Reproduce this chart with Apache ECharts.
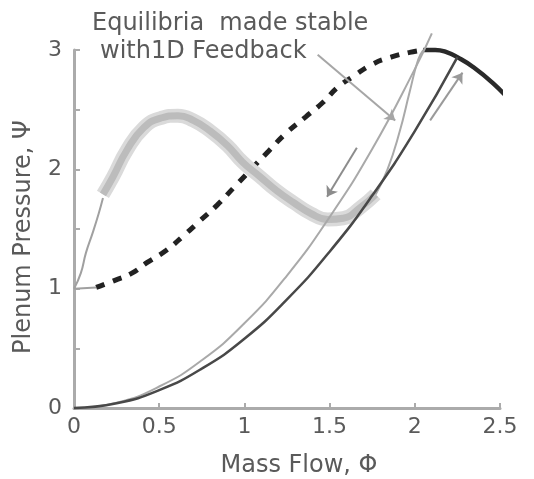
<!DOCTYPE html>
<html>
<head>
<meta charset="utf-8">
<script src="https://cdn.jsdelivr.net/npm/echarts@6/dist/echarts.min.js"></script>
<style>
  html, body { margin: 0; padding: 0; background: #ffffff; }
  #chart { width: 534px; height: 479px; }
</style>
</head>
<body>
<div id="chart"></div>
<script>
// Compressor characteristic: unstable branch (dashed)
const phiUnstable = [0.13, 0.24, 0.34, 0.43, 0.54, 0.64, 0.74, 0.84, 0.94, 1.14, 1.25, 1.36, 1.46, 1.55, 1.64, 1.75, 1.86, 1.97, 2.05];
const psiUnstable = [1.01, 1.07, 1.13, 1.22, 1.32, 1.44, 1.57, 1.70, 1.85, 2.15, 2.31, 2.44, 2.56, 2.69, 2.78, 2.88, 2.94, 2.98, 3.00];

// Compressor characteristic: stable branch (solid)
const phiStable = [2.05, 2.12, 2.19, 2.25, 2.34, 2.46, 2.57];
const psiStable = [3.00, 3.00, 2.98, 2.94, 2.86, 2.72, 2.56];

// Equilibria made stable with 1D feedback (grey band)
const phiBand = [0.17, 0.23, 0.31, 0.41, 0.51, 0.61, 0.70, 0.80, 0.90, 0.99, 1.09, 1.19, 1.29, 1.39, 1.49, 1.58, 1.68, 1.77];
const psiBand = [1.79, 1.94, 2.16, 2.35, 2.43, 2.45, 2.41, 2.32, 2.20, 2.06, 1.94, 1.82, 1.72, 1.63, 1.58, 1.59, 1.68, 1.79];

// Throttle lines
const phiThrottleA = [0, 0.25, 0.50, 0.75, 1.00, 1.25, 1.50, 1.75, 2.00, 2.10];
const psiThrottleA = [0, 0.045, 0.18, 0.40, 0.71, 1.11, 1.60, 2.17, 2.84, 3.14];
const phiThrottleB = [0, 0.25, 0.50, 0.75, 1.00, 1.25, 1.50, 1.75, 2.00, 2.25];
const psiThrottleB = [0, 0.04, 0.15, 0.33, 0.58, 0.91, 1.31, 1.78, 2.32, 2.94];

// Transition paths joining the band to the characteristic
const phiJumpLow = [0, 0.04, 0.07, 0.11, 0.145, 0.17];
const psiJumpLow = [1.00, 1.13, 1.30, 1.47, 1.63, 1.76];
const phiStart = [0, 0.13];
const psiStart = [1.00, 1.01];
const phiJumpHigh = [1.77, 1.84, 1.91, 1.97, 2.02, 2.05];
const psiJumpHigh = [1.79, 2.00, 2.31, 2.65, 2.92, 3.00];

// Direction arrows [from, to]
const arrowDown = [[1.66, 2.18], [1.485, 1.77]];
const arrowUp = [[2.09, 2.41], [2.28, 2.81]];
const leaderArrow = [[1.43, 2.96], [1.885, 2.41]];

// Axis ticks
const xTickMin = 0, xTickMax = 2.5, xTickStep = 0.5;
const yTickMin = 0, yTickMax = 3, yTickStep = 0.5;

const noteLines = ['Equilibria  made stable', 'with1D Feedback'];
const xName = 'Mass Flow, \u03A6';
const yName = 'Plenum Pressure, \u03A8';

const zip = (xs, ys) => xs.map((x, i) => [x, ys[i]]);
const FONT = '"DejaVu Sans", "Liberation Sans", sans-serif';
const TEXT = '#5a5a5a';
const AXIS = '#ababab';

function curve(xs, ys, style, z, smooth) {
  return {
    type: 'line', data: zip(xs, ys), symbol: 'none', smooth: smooth === undefined ? true : smooth,
    clip: false, z: z, lineStyle: style, silent: true, animation: false
  };
}
function arrow(seg, color, width, z) {
  return {
    type: 'lines', coordinateSystem: 'cartesian2d', z: z, silent: true, animation: false,
    symbol: ['none', 'arrow'], symbolSize: 10,
    lineStyle: { color: color, width: width, opacity: 1 },
    data: [{ coords: seg }]
  };
}

const chart = echarts.init(document.getElementById('chart'), null, { renderer: 'canvas' });
chart.setOption({
  backgroundColor: '#ffffff',
  animation: false,
  grid: { left: 74, right: 34, top: 50, bottom: 71, containLabel: false, outerBoundsMode: 'none' },
  xAxis: {
    type: 'value', min: xTickMin, max: xTickMax, interval: xTickStep,
    name: xName, nameLocation: 'middle', nameGap: 46,
    nameTextStyle: { fontFamily: FONT, fontSize: 24, color: TEXT, padding: [0, 0, 0, 24] },
    axisLine: { show: true, onZero: false, lineStyle: { color: AXIS, width: 3 } },
    axisTick: { show: true, inside: true, length: 5, lineStyle: { color: AXIS, width: 2 } },
    axisLabel: { fontFamily: FONT, fontSize: 22, color: TEXT, margin: 8 },
    splitLine: { show: false }
  },
  yAxis: {
    type: 'value', min: yTickMin, max: yTickMax, interval: yTickStep,
    name: yName, nameLocation: 'middle', nameGap: 38, nameRotate: 90,
    nameTextStyle: { fontFamily: FONT, fontSize: 24, color: TEXT, padding: [0, 16, 0, 0] },
    axisLine: { show: true, onZero: false, lineStyle: { color: AXIS, width: 3 } },
    axisTick: { show: true, inside: true, length: 6, lineStyle: { color: AXIS, width: 2 } },
    axisLabel: {
      fontFamily: FONT, fontSize: 22, color: TEXT, margin: 12,
      formatter: v => (Number.isInteger(v) ? String(v) : '')
    },
    splitLine: { show: false }
  },
  graphic: [
    { type: 'text', left: 92, top: 12, style: { text: noteLines[0], font: '24px ' + FONT, fill: TEXT } },
    { type: 'text', left: 100, top: 40, style: { text: noteLines[1], font: '24px ' + FONT, fill: TEXT } }
  ],
  series: [
    curve(phiUnstable, psiUnstable, { color: '#222222', width: 5, type: [9, 9], cap: 'butt' }, 2),
    curve(phiStable, psiStable, { color: '#2a2a2a', width: 4.5 }, 2),
    curve(phiBand, psiBand, { color: '#dadada', width: 14 }, 3),
    curve(phiBand, psiBand, { color: '#bcbcbc', width: 7 }, 3),
    curve(phiStart, psiStart, { color: '#a0a0a0', width: 2 }, 4, false),
    curve(phiJumpLow, psiJumpLow, { color: '#a0a0a0', width: 2 }, 4),
    curve(phiJumpHigh, psiJumpHigh, { color: '#a9a9a9', width: 2 }, 4),
    curve(phiThrottleA, psiThrottleA, { color: '#a9a9a9', width: 2 }, 5),
    curve(phiThrottleB, psiThrottleB, { color: '#484848', width: 2.5 }, 6),
    arrow(arrowDown, '#8c8c8c', 2, 7),
    arrow(arrowUp, '#9a9a9a', 2, 7),
    arrow(leaderArrow, '#a6a6a6', 2, 7)
  ]
});
</script>
</body>
</html>
